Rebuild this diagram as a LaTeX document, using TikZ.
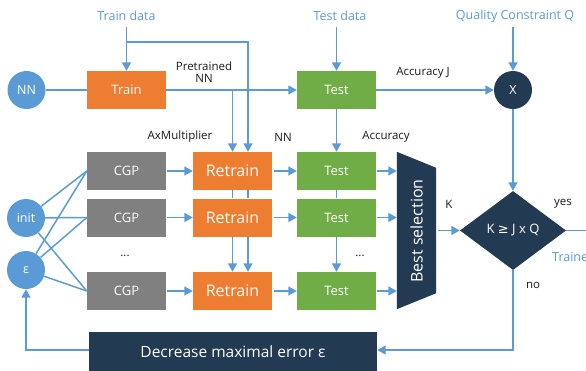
\documentclass[tikz,border=0pt]{standalone}
\usepackage{fontspec}
\setmainfont{Open Sans}
\newfontfamily\symfont{DejaVu Sans}
\usetikzlibrary{arrows.meta,shapes.geometric}

\definecolor{flowblue}{HTML}{5B9BD5}
\definecolor{trainorange}{HTML}{ED7D31}
\definecolor{testgreen}{HTML}{70AD47}
\definecolor{cgpgray}{HTML}{808080}
\definecolor{navy}{HTML}{223A52}
\definecolor{labelink}{HTML}{1A1A1A}

\newcommand{\fsz}[1]{\fontsize{#1}{#1}\selectfont}

\tikzset{
  flow/.style={draw=flowblue, line width=1.5pt},
  arr/.style={flow, -{Triangle[length=8.5pt,width=9pt]}},
  block/.style={rectangle, minimum width=79pt, minimum height=38pt, inner sep=0pt,
                text=white, font=\fsz{13}},
  trainbox/.style={block, fill=trainorange},
  retrainbox/.style={block, fill=trainorange, font=\fsz{16}},
  testbox/.style={block, fill=testgreen},
  cgpbox/.style={block, fill=cgpgray},
  bluedot/.style={circle, fill=flowblue, minimum size=38pt, inner sep=0pt,
                  text=white, font=\fsz{12.5}},
  navydot/.style={circle, fill=navy, minimum size=38pt, inner sep=0pt,
                  text=white, font=\fsz{12.5}},
  datalabel/.style={text=flowblue, font=\fsz{12.5}, inner sep=0pt},
  tag/.style={text=labelink, font=\fsz{11.5}, inner sep=0pt},
}

\begin{document}
\begin{tikzpicture}[x=1pt, y=-1pt]
\useasboundingbox (0,0) rectangle (586,370);

% ---- input labels ----
\node[datalabel] (trainlbl) at (126.5,16) {Train data};
\node[datalabel] (testlbl)  at (340,16)   {Test data};
\node[datalabel] (qlbl)     at (515,16)   {Quality Constraint Q};
\coordinate (trainin) at (126.5,27);
\coordinate (testin)  at (336.5,27);
\coordinate (qin)     at (513,27);
\coordinate (tdjoin)  at (126.5,42);

% ---- top row ----
\node[bluedot]  (nn)    at (26.5,90)  {NN};
\node[trainbox] (train) at (126.5,90) {Train};
\node[testbox]  (test0) at (336.5,90) {Test};
\node[navydot]  (mult)  at (513,90)   {X};

% ---- CGP / retrain / test rows ----
\node[cgpbox] (cgp1) at (126.5,171)   {CGP};
\node[cgpbox] (cgp2) at (126.5,217.5) {CGP};
\node[cgpbox] (cgp3) at (126.5,291)   {CGP};

\node[retrainbox] (ret1) at (232.5,171)   {Retrain};
\node[retrainbox] (ret2) at (232.5,217.5) {Retrain};
\node[retrainbox] (ret3) at (232.5,291)   {Retrain};

\node[testbox] (tst1) at (336.5,171)   {Test};
\node[testbox] (tst2) at (336.5,217.5) {Test};
\node[testbox] (tst3) at (336.5,291)   {Test};

\node[bluedot] (init) at (26,218) {init};
\node[bluedot] (eps)  at (26,270) {ε};

% ---- best selection (trapezoid) ----
\node[rectangle, minimum width=39pt, minimum height=157pt, inner sep=0pt] (best) at (416.5,230.5) {};
\fill[navy] (best.north west) -- ([yshift=-16pt]best.north east)
            -- ([yshift=16pt]best.south east) -- (best.south west) -- cycle;
\node[rotate=90, text=white, font=\fsz{16}, inner sep=0pt] (besttxt) at (416.5,231) {Best selection};

% ---- decision ----
\node[diamond, fill=navy, minimum width=106pt, minimum height=79pt, inner sep=0pt] (dia) at (513,230.5) {};
\node[text=white, font=\fsz{13}, inner sep=0pt] (diatxt) at (513,230.5) {K {\symfont≥} J x Q};
\coordinate (yesout) at (592,230.5);

% ---- decrease error ----
\node[rectangle, fill=navy, minimum width=288pt, minimum height=40pt, inner sep=0pt,
      text=white, font=\fsz{15.5}] (dec) at (233,352) {Decrease maximal error ε};

% ---- connectors: top row ----
\draw[arr] (trainin) -- (train.north);
\draw[arr] (testin) -- (test0.north);
\draw[arr] (qin) -- (mult.north);
\draw[flow] (nn) -- (train.west);
\draw[arr] (train.east) -- (test0.west);
\draw[arr] (test0.east) -- (mult.west);
\draw[arr] (train.east -| ret1.north) -- (ret1.north);
\draw[arr] (tdjoin) -| ([xshift=15.5pt]ret1.north);
\draw[arr] (test0.south) -- (tst1.north);
\draw[arr] (mult.south) -- (dia.north);

% ---- connectors: init / eps fan-out ----
\foreach \c in {cgp1,cgp2,cgp3}{
  \draw[flow] (init) -- (\c.west);
  \draw[flow] (eps) -- (\c.west);
}

% ---- connectors: rows ----
\foreach \a/\b/\c in {cgp1/ret1/tst1, cgp2/ret2/tst2, cgp3/ret3/tst3}{
  \draw[arr, shorten <=1pt] (\a.east) -- (\b.west);
  \draw[arr, shorten <=1.5pt] (\b.east) -- (\c.west);
  \draw[arr, shorten <=1pt] (\c.east) -- (\c.east -| best.west);
}

% ---- connectors: columns ----
\draw[flow] (ret1.south) -- (ret2.north);
\draw[flow] ([xshift=15.5pt]ret1.south) -- ([xshift=15.5pt]ret2.north);
\draw[arr] (ret2.south) -- (ret3.north);
\draw[arr] ([xshift=15.5pt]ret2.south) -- ([xshift=15.5pt]ret3.north);
\draw[flow] (tst1.south) -- (tst2.north);
\draw[arr] (tst2.south) -- (tst3.north);

% ---- connectors: decision and loop ----
\draw[arr] ([xshift=2pt]best.east |- dia.west) -- (dia.west);
\draw[flow] (dia.east) -- (yesout);
\draw[arr] (dia.south) |- ([yshift=2pt]dec.east);
\draw[arr] ([yshift=2pt]dec.west) -| (eps.south);

% ---- labels ----
\node[tag, align=center] (pretr) at (204,72) {Pretrained\\[1pt]NN};
\node[tag] (accj) at (423,73)  {Accuracy J};
\node[tag] (axm)  at (180,137) {AxMultiplier};
\node[tag] (nnl)  at (283,137) {NN};
\node[tag] (acc)  at (386,137) {Accuracy};
\node[tag] (dots1) at (125,256) {...};
\node[tag] (dots2) at (360,256) {...};
\node[tag] (klbl)  at (449,204) {K};
\node[tag] (yes)   at (563,204) {yes};
\node[tag] (no)    at (533,285) {no};
\node[datalabel, anchor=west] (trained) at (552,257) {Trained NN};
\end{tikzpicture}
\end{document}
